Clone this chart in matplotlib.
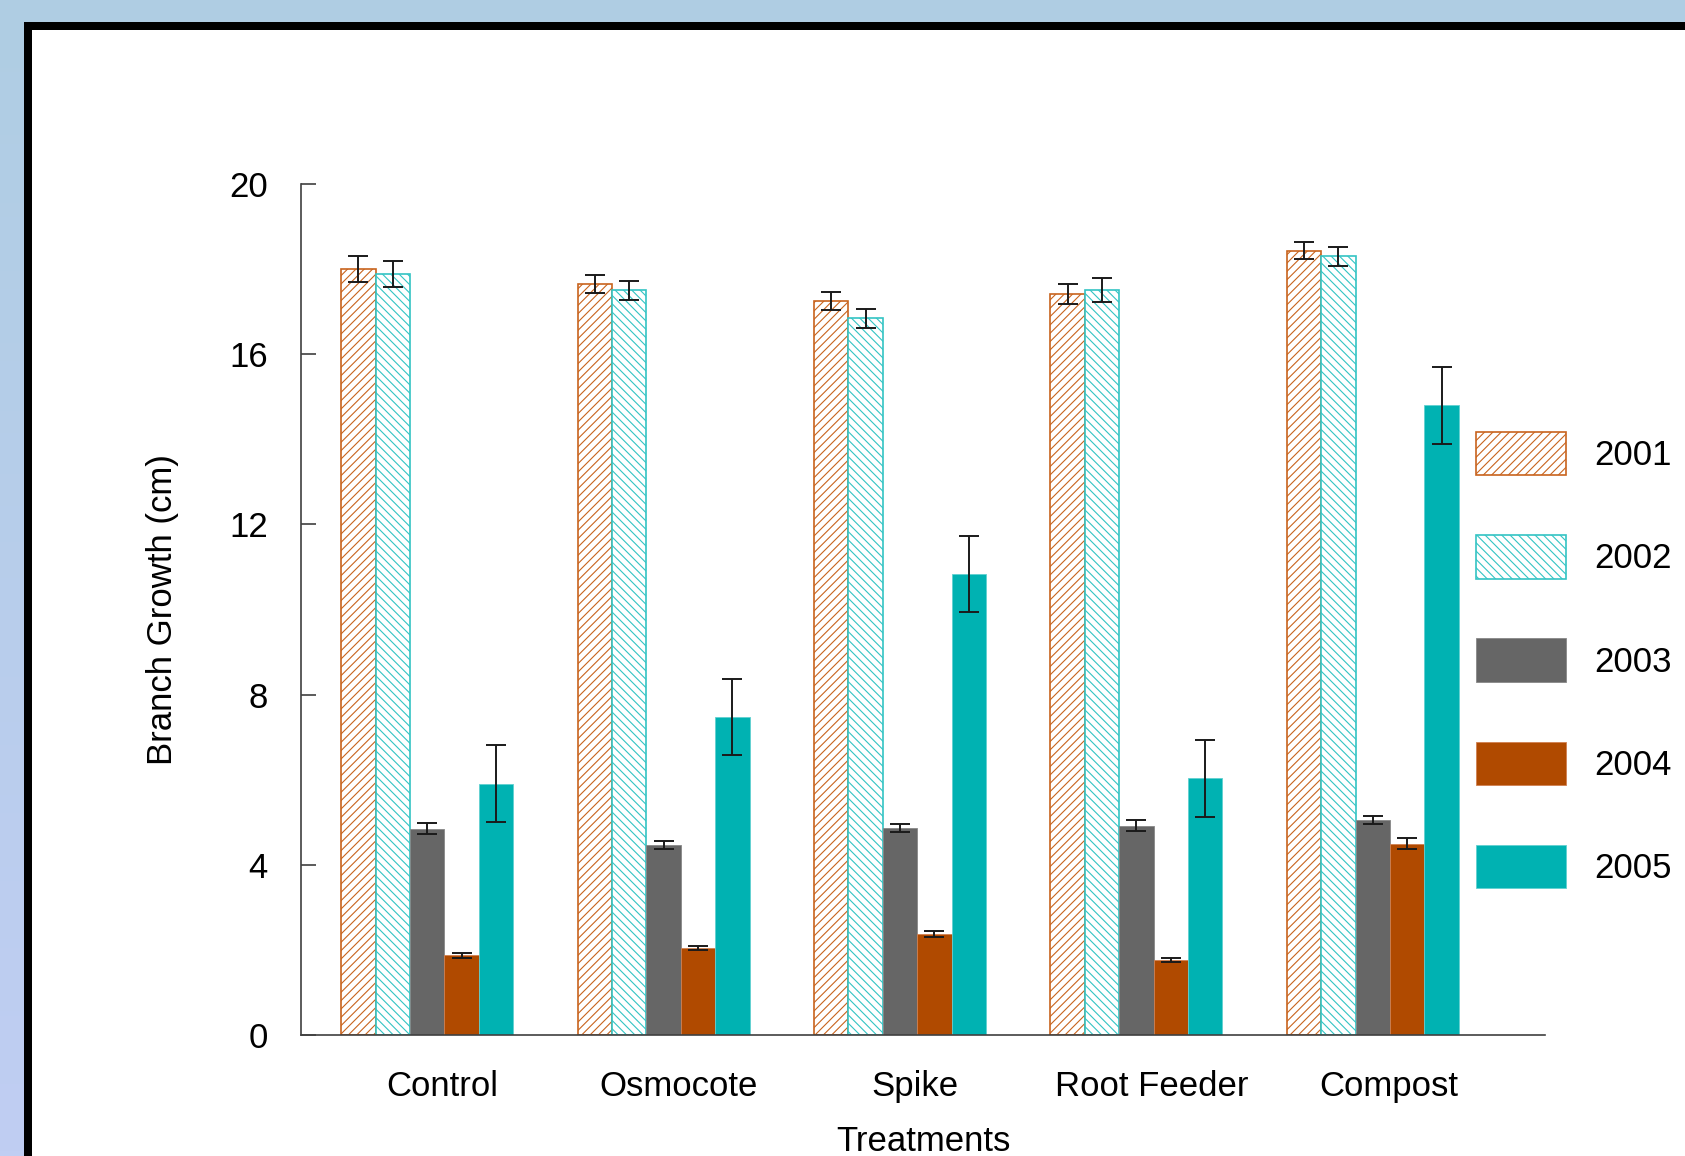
import numpy as np
import matplotlib
matplotlib.use("Agg")
import matplotlib.pyplot as plt
from matplotlib.patches import Rectangle

plt.rcParams['font.family'] = ['Liberation Sans', 'DejaVu Sans']
plt.rcParams['hatch.linewidth'] = 0.8

# Branch growth per treatment and year
treatments = ["Control", "Osmocote", "Spike", "Root Feeder", "Compost"]
years = ["2001", "2002", "2003", "2004", "2005"]
growth_2001 = [18.0, 17.65, 17.25, 17.42, 18.43]
growth_2002 = [17.88, 17.5, 16.84, 17.5, 18.3]
growth_2003 = [4.85, 4.47, 4.87, 4.92, 5.05]
growth_2004 = [1.87, 2.05, 2.37, 1.77, 4.5]
growth_2005 = [5.91, 7.47, 10.83, 6.03, 14.8]
err_2001 = [0.3, 0.2, 0.22, 0.24, 0.2]
err_2002 = [0.3, 0.22, 0.23, 0.28, 0.22]
err_2003 = [0.13, 0.1, 0.1, 0.13, 0.1]
err_2004 = [0.05, 0.05, 0.07, 0.05, 0.12]
err_2005 = [0.9, 0.9, 0.9, 0.9, 0.9]
y_ticks = [0, 4, 8, 12, 16, 20]

series = [growth_2001, growth_2002, growth_2003, growth_2004, growth_2005]
errors = [err_2001, err_2002, err_2003, err_2004, err_2005]
styles = [
    dict(facecolor="white", edgecolor="#c8641e", hatch="////", linewidth=1.2),
    dict(facecolor="white", edgecolor="#33c4c4", hatch="\\\\\\\\", linewidth=1.2),
    dict(facecolor="#666666", edgecolor="#888888", linewidth=0.6),
    dict(facecolor="#b04a00", edgecolor="#d08050", linewidth=0.6),
    dict(facecolor="#00b2b2", edgecolor="#60d0d0", linewidth=0.6),
]

W, H = 1685, 1156
fig = plt.figure(figsize=(W / 100, H / 100), dpi=100)

# Slide background: soft blue gradient with a black-framed white panel
bg = fig.add_axes([0, 0, 1, 1], zorder=-10)
top_c = np.array([175, 205, 227]) / 255
bot_c = np.array([192, 206, 243]) / 255
t = np.linspace(0, 1, 256)[:, None, None]
grad = top_c * (1 - t) + bot_c * t
grad = np.repeat(grad, 4, axis=1)
bg.imshow(grad, aspect="auto", extent=[0, 1, 0, 1], origin="upper")
bg.add_patch(Rectangle((24 / W, -0.1), 1.2, 1 - 22 / H + 0.1, facecolor="black", edgecolor="none"))
bg.add_patch(Rectangle((32 / W, -0.1), 1.2, 1 - 30 / H + 0.1, facecolor="white", edgecolor="none"))
bg.set_xlim(0, 1)
bg.set_ylim(0, 1)
bg.axis("off")

ax = fig.add_axes([301 / W, 1 - 1035 / H, (1545 - 301) / W, (1035 - 184) / H])
ax.set_facecolor("none")

x = np.arange(len(treatments))
bw = 0.1455
for i, (vals, errs, st, yr) in enumerate(zip(series, errors, styles, years)):
    pos = x + (i - 2) * bw
    ax.bar(pos, vals, width=bw, label=yr, zorder=2, **st)
    ax.errorbar(pos, vals, yerr=errs, fmt="none", ecolor="#1a1a1a",
                elinewidth=1.4, capsize=7, capthick=1.4, zorder=3)

ax.set_xlim(-0.534, 4.728)
ax.set_ylim(0, 20)
ax.set_yticks(y_ticks)
# category names sit slightly right of each group's centre
ax.set_xticks(x + 0.065)
ax.set_xticklabels(treatments)

for side in ("top", "right"):
    ax.spines[side].set_visible(False)
for side in ("left", "bottom"):
    ax.spines[side].set_color("#404040")
    ax.spines[side].set_linewidth(1.2)

ax.tick_params(axis="y", direction="in", length=11, width=1.2, color="#404040",
               pad=24, labelsize=25)
ax.tick_params(axis="x", length=0, pad=25, labelsize=25)

ax.set_ylabel("Branch Growth (cm)", fontsize=25)
ax.yaxis.set_label_coords(-0.098, 0.5)
ax.set_xlabel("Treatments", fontsize=25)
ax.xaxis.set_label_coords(0.5, -0.106)

leg = ax.legend(loc="upper left", bbox_to_anchor=(1476 / W, 1 - 432 / H),
                bbox_transform=fig.transFigure, frameon=False, fontsize=25,
                handlelength=2.6, handleheight=1.55, labelspacing=1.72,
                handletextpad=0.8, borderpad=0, borderaxespad=0)

fig.savefig("out.png", dpi=100)
